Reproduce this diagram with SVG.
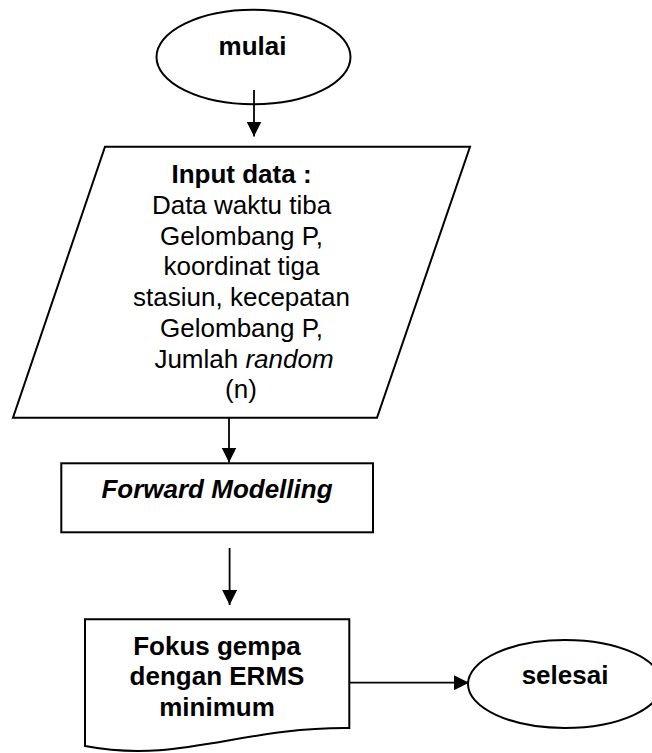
<svg xmlns="http://www.w3.org/2000/svg" width="652" height="753" viewBox="0 0 652 753">
<style>
.shape{fill:#fff;stroke:#000;stroke-width:2}
.conn{fill:none;stroke:#000;stroke-width:1.8}
.t{font-family:"Liberation Sans",Arial,sans-serif;font-size:26px;fill:#000;text-anchor:middle}
.b{font-weight:bold}
.i{font-style:italic}
</style>
<defs>
<marker id="arr" viewBox="0 0 15 15" refX="15" refY="7.5" markerWidth="15" markerHeight="15" markerUnits="userSpaceOnUse" orient="auto">
<path d="M0,0 L15,7.5 L0,15 z" fill="#000"/>
</marker>
</defs>
<rect width="652" height="753" fill="#fff"/>
<g id="mulai">
<ellipse class="shape" cx="253.5" cy="57" rx="97" ry="47.3"/>
<text class="t b" x="252.5" y="55">mulai</text>
</g>
<g id="input">
<polygon class="shape" points="105,146.7 470,146.7 377,417.8 13,417.8"/>
<text class="t b" x="241.5" y="183.3">Input data :</text>
<text class="t" x="241.5" y="214">Data waktu tiba</text>
<text class="t" x="241.5" y="244.7">Gelombang P,</text>
<text class="t" x="241.5" y="275.4">koordinat tiga</text>
<text class="t" x="241.5" y="306.1">stasiun, kecepatan</text>
<text class="t" x="241.5" y="336.8">Gelombang P,</text>
<text class="t" x="244" y="367.5">Jumlah <tspan class="i">random</tspan></text>
<text class="t" x="241" y="398.2">(n)</text>
</g>
<g id="forward">
<rect class="shape" x="61.3" y="463.3" width="311.7" height="69"/>
<text class="t b i" x="217" y="498.3">Forward Modelling</text>
</g>
<g id="fokus">
<path class="shape" d="M85,619.3 L349.3,619.3 L349.3,728 C240,727 180,764 85,746 Z"/>
<text class="t b" x="217" y="654.8">Fokus gempa</text>
<text class="t b" x="217" y="685.3">dengan ERMS</text>
<text class="t b" x="217" y="715.8">minimum</text>
</g>
<g id="selesai">
<ellipse class="shape" cx="565" cy="684" rx="97" ry="44"/>
<text class="t b" x="565" y="684">selesai</text>
</g>
<g id="connectors">
<line class="conn" x1="254" y1="90" x2="254" y2="136.5" marker-end="url(#arr)"/>
<line class="conn" x1="229" y1="417.8" x2="229" y2="462.5" marker-end="url(#arr)"/>
<line class="conn" x1="229.6" y1="548" x2="229.6" y2="605" marker-end="url(#arr)"/>
<line class="conn" x1="349.3" y1="682.7" x2="469" y2="682.7" marker-end="url(#arr)"/>
</g>
</svg>
